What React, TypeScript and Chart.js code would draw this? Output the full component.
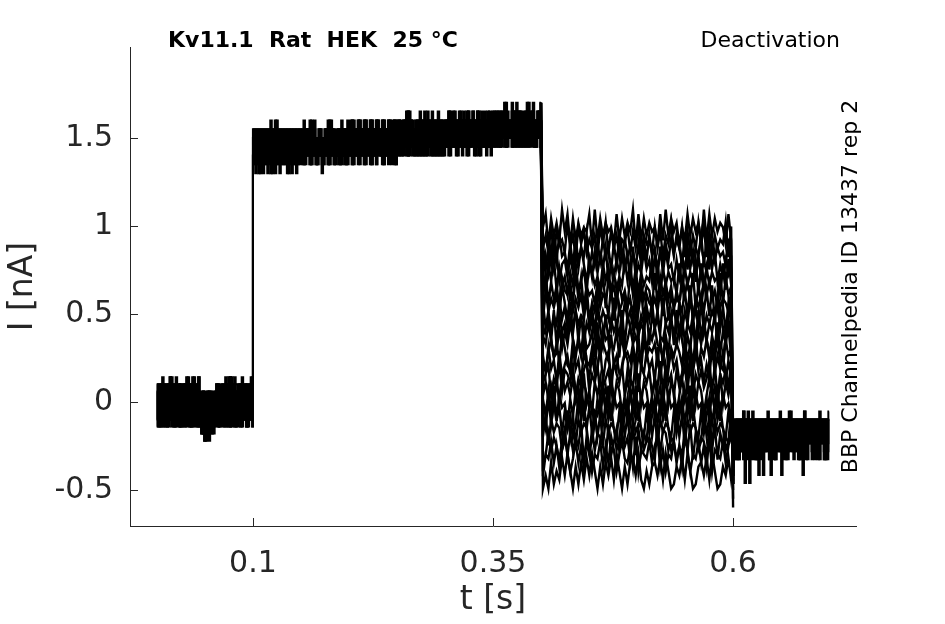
import React, { useEffect, useRef } from 'react';
import { Chart, registerables } from 'chart.js';

Chart.register(...registerables);

// protocol timing (s)
const T_HOLD = [0, 0.1];
const T_STEP = [0.1, 0.4];
const T_TEST = [0.402, 0.598];
const T_TAIL = [0.6, 0.7];

// holding segment, digit d -> I = HOLD_BASE + d * HOLD_Q (nA)
const HOLD_BASE = -0.22;
const HOLD_Q = 0.04;
const HOLD_TRACES = [
    '28283728293829382728372829382' + '3170627162' + '73828372839282738283728839',
    '83729382838273728382937283729' + '2716071526' + '38273829372839827383827392',
    '37282837392728382738292838729' + '6170517271' + '73827283829382738293827382',
    '72838272839382728283738292837' + '2617270715' + '28273738292938273827382838',
];

// depolarising step, digit d -> I = STEP_BASE + d * STEP_Q
const STEP_BASE = 1.25;
const STEP_Q = 0.05;
const STEP_TRACES = [
    '36153625361536273615362536153625' + '36253627362536153627362536253627' +
    '37263647362736473627364736273627' + '47364738473647374736473847364737' +
    '47574847375747484757384757474847' + '57484759475748475847574958474857',
    '63526351635263517352635163526352' + '63526372635263526352736352635263' +
    '63746372637463726374637263746372' + '74637483746374637483746374637463' +
    '74857473748574837485747384857474' + '75847584957584758475849575847584',
    '52635163526371635263526352635163' + '52736352635263526372635263526352' +
    '63726374637263726374637263746372' + '63747463847463746374847463746374' +
    '74837485747384757483748574738475' + '84758475847595847584758475947584',
    '35261536253615362536253615362536' + '35263625372536253625362536273625' +
    '36273627362746273627362736472736' + '37463748374637483746374637483746' +
    '47385747485747384757483747574738' + '48574857485748594857485748574859',
];

// test pulses: one level per sweep, digit d -> I = level + (d - 4.5) * TEST_Q
const TEST_LEVELS = [
    0.98, 0.91, 0.84, 0.77, 0.70, 0.62, 0.55, 0.48, 0.41, 0.34,
    0.27, 0.20, 0.12, 0.05, -0.02, -0.09, -0.16, -0.24, -0.31, -0.38,
];
const TEST_Q = 0.025;
const TEST_TRACES = [
    '5817362948172635481927364518273649182736451829374615283746192837465182',
    '3628174529361847253618492736154827391645283716492538172639481726354918',
    '7162839451728364915273846172938465172839461527384962817364928173645281',
    '2739481562738495162837491526384719253846172938451627394817263948152637',
    '6184927351638247196352847162539482716354928173645182736491827364518293',
    '4927361854729381645273918462735194827365192847361528473916284735192846',
    '1836472951836472915384762918357462938175463829174653829164738291746538',
    '8261539472816354927183645291738462915374826193547281639472815364927183',
    '3572918463759281647395182746391852736491857326481937264819372648195372',
    '6495128374951628347192856437192584631927584316297485163927485163927481',
    '2158473962185749326184753921684537291846573829164752837291648573921846',
    '7394618257394618527349168257348619275384619273584613927384615293748162',
    '4681539276481537926481357296481753928647153928461735829164735928164739',
    '4736182957483619250748361927504836192750483619275048361927504836192748',
    '6283917450628391745062839174506283917450628391745062839174506283917452',
    '5293847162503948271659384720615938472061593847206159384720615938472061',
    '3817465029381746502938174650293817465029381746502938174650293817465029',
    '0273641582736491528376419258374619283756419287365142839174652839174658',
    '0548372695148372961548273961584372916548379261548372961548372916548379',
    '0306142738405162738405163728405167382041563728401537284015637284015372',
];
const TEST_END = [
    -0.2, -0.3, -0.45, -0.25, -0.55, -0.3, -0.25, -0.6, -0.3, -0.2,
    -0.5, -0.25, -0.3, -0.35, -0.25, -0.3, -0.4, -0.3, -0.25, -0.35,
];

// tail after repolarisation, digit d -> I = TAIL_BASE + d * TAIL_Q
const TAIL_BASE = -0.46;
const TAIL_Q = 0.045;
const TAIL_TRACES = [
    '1358384908385848384858493848584818384958485838494858384849583858',
    '2838584938505838485818485848385948584858384858193858484838584838',
    '0583858384948583818384858183858485838594858385848385848583858389',
    '3858384858583948385848583848384858583848584838484858583848583848',
];

const X_TICKS = [0.1, 0.35, 0.6];
const Y_TICKS = [-0.5, 0, 0.5, 1, 1.5];

const TITLE = 'Kv11.1  Rat  HEK  25 °C';
const PROTOCOL = 'Deactivation';
const SOURCE = 'BBP Channelpedia ID 13437 rep 2';

const FONT = '"DejaVu Sans", sans-serif';
const AXIS_COLOR = '#262626';

type Pt = { x: number; y: number };

const decode = (s: string, span: number[], toI: (d: number) => number): Pt[] => {
    const n = s.length;
    return s.split('').map((c, i) => ({
        x: span[0] + (i * (span[1] - span[0])) / (n - 1),
        y: toI(Number(c)),
    }));
};

const trace = (data: Pt[], stepped: boolean, width: number) => ({
    data,
    borderColor: '#000000',
    borderWidth: width,
    pointRadius: 0,
    fill: false,
    tension: 0,
    stepped: stepped ? 'middle' : false,
});

const buildDatasets = () => {
    const sets: any[] = [];
    const stepEnds: number[] = [];
    HOLD_TRACES.forEach((h, k) => {
        const hold = decode(h, T_HOLD, (d) => HOLD_BASE + d * HOLD_Q);
        const step = decode(STEP_TRACES[k], T_STEP, (d) => STEP_BASE + d * STEP_Q);
        stepEnds.push(step[step.length - 1].y);
        sets.push(trace([...hold, ...step], true, 2));
    });
    TEST_TRACES.forEach((s, j) => {
        const lvl = TEST_LEVELS[j];
        const pts = decode(s, T_TEST, (d) => lvl + (d - 4.5) * TEST_Q);
        sets.push(trace([
            { x: T_STEP[1], y: stepEnds[j % stepEnds.length] },
            ...pts,
            { x: T_TAIL[0], y: TEST_END[j] },
        ], false, 2.4));
    });
    TAIL_TRACES.forEach((s) => {
        sets.push(trace(decode(s, T_TAIL, (d) => TAIL_BASE + d * TAIL_Q), true, 2));
    });
    return sets;
};

const decorPlugin = {
    id: 'decor',
    afterDraw(chart: any) {
        const { ctx, chartArea, scales } = chart;
        ctx.save();
        // inward tick marks
        ctx.strokeStyle = AXIS_COLOR;
        ctx.lineWidth = 1;
        ctx.beginPath();
        X_TICKS.forEach((v) => {
            const px = Math.round(scales.x.getPixelForValue(v)) + 0.5;
            ctx.moveTo(px, chartArea.bottom);
            ctx.lineTo(px, chartArea.bottom - 8);
        });
        Y_TICKS.forEach((v) => {
            const py = Math.round(scales.y.getPixelForValue(v)) + 0.5;
            ctx.moveTo(chartArea.left, py);
            ctx.lineTo(chartArea.left + 8, py);
        });
        ctx.stroke();

        ctx.fillStyle = '#000000';
        ctx.textBaseline = 'alphabetic';
        ctx.font = `bold 22px ${FONT}`;
        ctx.textAlign = 'left';
        ctx.fillText(TITLE, 168, 47);
        ctx.font = `22px ${FONT}`;
        ctx.textAlign = 'right';
        ctx.fillText(PROTOCOL, 840, 47);

        ctx.translate(857, (chartArea.top + chartArea.bottom) / 2);
        ctx.rotate(-Math.PI / 2);
        ctx.textAlign = 'center';
        ctx.fillText(SOURCE, 0, 0);
        ctx.restore();
    },
};

const App: React.FC = () => {
    const canvasRef = useRef<HTMLCanvasElement>(null);
    const chartRef = useRef<Chart | null>(null);

    useEffect(() => {
        if (!canvasRef.current) return;
        chartRef.current?.destroy();

        chartRef.current = new Chart(canvasRef.current, {
            type: 'line',
            data: { datasets: buildDatasets() },
            options: {
                responsive: false,
                animation: false,
                parsing: false,
                normalized: true,
                layout: { padding: { top: 47, right: 89, left: 0, bottom: 0 } },
                plugins: {
                    legend: { display: false },
                    tooltip: { enabled: false },
                },
                scales: {
                    x: {
                        type: 'linear',
                        min: -0.028,
                        max: 0.728,
                        afterFit: (s: any) => { s.height = 98; },
                        afterBuildTicks: (s: any) => { s.ticks = X_TICKS.map((value) => ({ value })); },
                        grid: { display: false, drawTicks: false },
                        border: { display: true, color: AXIS_COLOR, width: 1 },
                        ticks: {
                            autoSkip: false,
                            maxRotation: 0,
                            padding: 20,
                            color: AXIS_COLOR,
                            font: { family: 'DejaVu Sans', size: 30 },
                            callback: (v: any) => String(v),
                        },
                        title: {
                            display: true,
                            text: 't [s]',
                            color: AXIS_COLOR,
                            font: { family: 'DejaVu Sans', size: 33 },
                            padding: { top: 4, bottom: 4 },
                        },
                    },
                    y: {
                        type: 'linear',
                        min: -0.705,
                        max: 2.017,
                        afterFit: (s: any) => { s.width = 130; },
                        afterBuildTicks: (s: any) => { s.ticks = Y_TICKS.map((value) => ({ value })); },
                        grid: { display: false, drawTicks: false },
                        border: { display: true, color: AXIS_COLOR, width: 1 },
                        ticks: {
                            autoSkip: false,
                            padding: 17,
                            color: AXIS_COLOR,
                            font: { family: 'DejaVu Sans', size: 30 },
                            callback: (v: any) => String(v),
                        },
                        title: {
                            display: true,
                            text: 'I [nA]',
                            color: AXIS_COLOR,
                            font: { family: 'DejaVu Sans', size: 33 },
                            padding: { top: 4, bottom: 4 },
                        },
                    },
                },
            },
            plugins: [decorPlugin],
        });

        return () => { chartRef.current?.destroy(); chartRef.current = null; };
    }, []);

    return (
        <div style={{ position: 'absolute', left: 0, top: 0, width: 945, height: 624, background: '#ffffff' }}>
            <canvas ref={canvasRef} width={945} height={624} />
        </div>
    );
};

export default App;
